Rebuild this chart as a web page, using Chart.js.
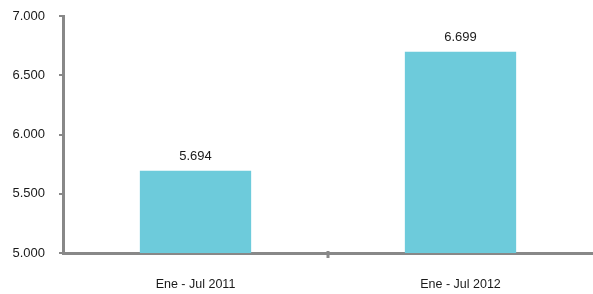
<!DOCTYPE html>
<html>
<head>
<meta charset="utf-8">
<script src="https://cdn.jsdelivr.net/npm/chart.js@4/dist/chart.umd.min.js"></script>
<style>
  html, body { margin: 0; padding: 0; background: #fff; }
  #wrap { width: 593px; height: 294px; }
</style>
</head>
<body>
<div id="wrap"><canvas id="myChart" width="593" height="294"></canvas></div>
<script>
const categories = ['Ene - Jul 2011', 'Ene - Jul 2012'];
const values = [5694, 6699];
const yTicks = [5000, 5500, 6000, 6500, 7000];

const fmt = v => v.toLocaleString('de-DE');

// value labels above bars and the tick mark between the two categories
const extras = {
    id: 'extras',
    afterDatasetsDraw(chart) {
        const c = chart.ctx;
        const meta = chart.getDatasetMeta(0);
        const xs = chart.scales.x;
        c.save();
        c.font = '13px "Liberation Sans", Arial, sans-serif';
        c.fillStyle = '#1a1a1a';
        c.textAlign = 'center';
        c.textBaseline = 'bottom';
        meta.data.forEach((bar, i) => {
            c.fillText(fmt(values[i]), bar.x, bar.y - 8);
        });
        const mid = (xs.getPixelForTick(0) + xs.getPixelForTick(1)) / 2;
        c.strokeStyle = '#888';
        c.lineWidth = 3;
        c.beginPath();
        c.moveTo(mid, chart.chartArea.bottom - 2);
        c.lineTo(mid, chart.chartArea.bottom + 5);
        c.stroke();
        c.restore();
    }
};

const ctx = document.getElementById('myChart').getContext('2d');

const myChart = new Chart(ctx, {
    type: 'bar',
    data: {
        labels: categories,
        datasets: [{
            data: values,
            backgroundColor: 'rgba(109, 203, 219, 1)',
            barPercentage: 0.42,
            categoryPercentage: 1
        }]
    },
    options: {
        responsive: false,
        animation: false,
        layout: { padding: 0 },
        plugins: {
            legend: { display: false },
            tooltip: { enabled: false }
        },
        scales: {
            x: {
                offset: true,
                border: { color: '#888', width: 3 },
                grid: { display: false },
                ticks: {
                    color: '#1a1a1a',
                    padding: 16,
                    font: { family: '"Liberation Sans", Arial, sans-serif', size: 12.5 }
                },
                afterFit(scale) { scale.height = 41; }
            },
            y: {
                min: 5000,
                max: 7000,
                afterBuildTicks(scale) { scale.ticks = yTicks.map(v => ({ value: v })); },
                border: { color: '#888', width: 3 },
                grid: {
                    drawOnChartArea: false,
                    drawTicks: true,
                    tickLength: 4,
                    color: '#888',
                    lineWidth: 2
                },
                ticks: {
                    color: '#1a1a1a',
                    padding: 14,
                    callback: v => fmt(v),
                    font: { family: '"Liberation Sans", Arial, sans-serif', size: 13 }
                },
                afterFit(scale) {
                    scale.width = 63;
                    scale.paddingTop = 16;
                }
            }
        }
    },
    plugins: [extras]
});
</script>
</body>
</html>
